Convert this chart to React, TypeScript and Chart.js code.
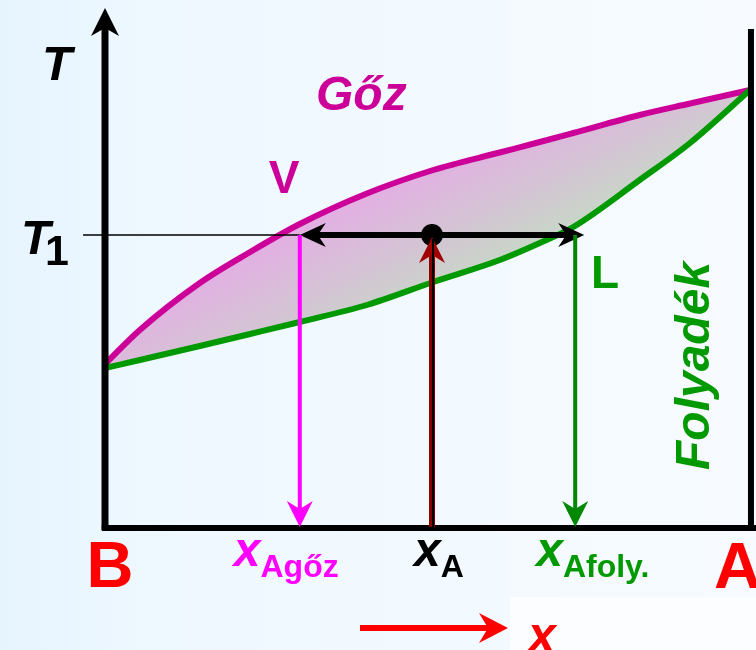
import React, { useEffect, useRef } from "react";
import { Chart, registerables } from "chart.js";

Chart.register(...registerables);

// composition of A (mole fraction) along the x axis, B = 0, A = 1
const compositions = [0, 0.054, 0.147, 0.225, 0.302, 0.406, 0.509, 0.612, 0.674, 0.726, 0.829, 0.907, 1];
// dew (vapour) curve temperatures
const vaporT = [32.6, 39.4, 48.8, 55, 60.6, 66.7, 71.4, 74.9, 77, 78.8, 82.4, 84.7, 87.4];
// boiling (liquid) curve temperatures
const liquidT = [31.8, 33.4, 36.2, 38.6, 41, 44.4, 49, 53.4, 56.8, 60, 69.4, 76.8, 87.4];

const T1 = 58.4;
const xVapor = 0.302;
const xMix = 0.507;
const xLiquid = 0.729;
const tieRight = 0.743;

const X_MIN = -105 / 645;
const X_MAX = 651 / 645;
const Y_MIN = -24.6;
const Y_MAX = 105.4;
const Y_AXIS_TIP = 103.8;
const RIGHT_AXIS_TOP = 99.6;

const FONT = '"Liberation Sans", Arial, sans-serif';

function arrow(
  ctx: CanvasRenderingContext2D,
  tx: number,
  ty: number,
  dx: number,
  dy: number,
  len: number,
  half: number,
  notch: number,
  color: string
) {
  const bx = tx - dx * len;
  const by = ty - dy * len;
  const pxv = -dy;
  const pyv = dx;
  ctx.save();
  ctx.fillStyle = color;
  ctx.beginPath();
  ctx.moveTo(tx, ty);
  ctx.lineTo(bx + pxv * half, by + pyv * half);
  ctx.lineTo(tx - dx * (len - notch), ty - dy * (len - notch));
  ctx.lineTo(bx - pxv * half, by - pyv * half);
  ctx.closePath();
  ctx.fill();
  ctx.restore();
}

function line(ctx: CanvasRenderingContext2D, x1: number, y1: number, x2: number, y2: number, w: number, color: string) {
  ctx.save();
  ctx.strokeStyle = color;
  ctx.lineWidth = w;
  ctx.lineCap = "butt";
  ctx.beginPath();
  ctx.moveTo(x1, y1);
  ctx.lineTo(x2, y2);
  ctx.stroke();
  ctx.restore();
}

function text(ctx: CanvasRenderingContext2D, s: string, x: number, y: number, font: string, color: string, align: CanvasTextAlign = "left") {
  ctx.save();
  ctx.font = font;
  ctx.fillStyle = color;
  ctx.textAlign = align;
  ctx.textBaseline = "alphabetic";
  ctx.fillText(s, x, y);
  ctx.restore();
}

const decorPlugin = {
  id: "decor",
  beforeDraw(chart: any) {
    const { ctx, width, height } = chart;
    ctx.save();
    const g = ctx.createLinearGradient(0, 0, width, 0);
    g.addColorStop(0, "#E6F4FE");
    g.addColorStop(0.2, "#EEF8FF");
    g.addColorStop(1, "#F7FBFF");
    ctx.fillStyle = g;
    ctx.fillRect(0, 0, width, height);
    ctx.fillStyle = "#FBFDFF";
    ctx.fillRect(510, 597, width - 510, height - 597);
    ctx.restore();
  },
  afterDatasetsDraw(chart: any) {
    const ctx: CanvasRenderingContext2D = chart.ctx;
    const xs = chart.scales.x;
    const ys = chart.scales.y;
    const px = (v: number) => xs.getPixelForValue(v);
    const py = (v: number) => ys.getPixelForValue(v);
    const yT1 = py(T1);
    const y0 = py(0);

    // y axis arrowhead
    arrow(ctx, px(0), py(Y_AXIS_TIP), 0, -1, 28, 14, 8, "#000");

    // tie line with arrows
    line(ctx, px(xVapor) + 14, yT1, px(tieRight) - 14, yT1, 6, "#000");
    arrow(ctx, px(xVapor), yT1, -1, 0, 26, 12, 8, "#000");
    arrow(ctx, px(tieRight), yT1, 1, 0, 26, 12, 8, "#000");

    // vapour composition drop line
    line(ctx, px(xVapor), yT1, px(xVapor), y0 - 14, 4, "#FF00FF");
    arrow(ctx, px(xVapor), y0, 0, 1, 26, 13, 8, "#FF00FF");

    // liquid composition drop line
    line(ctx, px(xLiquid), yT1, px(xLiquid), y0 - 14, 4, "#008800");
    arrow(ctx, px(xLiquid), y0, 0, 1, 26, 13, 8, "#008800");

    // overall composition line
    line(ctx, px(xMix), y0, px(xMix), yT1 + 10, 6, "#8B0000");
    line(ctx, px(xMix) + 1, y0, px(xMix) + 1, yT1 + 10, 2, "#000");
    ctx.save();
    ctx.fillStyle = "#000";
    ctx.beginPath();
    ctx.arc(px(xMix), yT1, 11, 0, Math.PI * 2);
    ctx.fill();
    ctx.restore();
    arrow(ctx, px(xMix), yT1 + 2, 0, -1, 26, 13, 8, "#A00000");
    line(ctx, px(xMix) + 1, y0, px(xMix) + 1, yT1 + 4, 2, "#000");

    // labels
    const bi = (s: number) => `italic bold ${s}px ${FONT}`;
    const b = (s: number) => `bold ${s}px ${FONT}`;
    text(ctx, "T", 42, 80, bi(49), "#000");
    text(ctx, "T", 21, 254, bi(48), "#000");
    text(ctx, "1", 57, 265, b(43), "#000", "center");
    text(ctx, "Gőz", 316, 110, bi(48), "#CC0099");
    text(ctx, "V", 284, 193, b(46), "#CC0099", "center");
    text(ctx, "L", 591, 288, b(46), "#009900");
    ctx.save();
    ctx.translate(709, 470);
    ctx.rotate(-Math.PI / 2);
    text(ctx, "Folyadék", 0, 0, bi(48), "#009900");
    ctx.restore();

    text(ctx, "B", px(0) + 5, 587, b(65), "#FF0000", "center");
    text(ctx, "A", px(1) - 36, 588, b(65), "#FF0000");

    const sub = (main: string, subs: string, left: number, color: string) => {
      text(ctx, main, left, 566, bi(48), color);
      ctx.save();
      ctx.font = bi(48);
      const w = ctx.measureText(main).width;
      ctx.restore();
      text(ctx, subs, left + w, 577, b(32), color);
    };
    sub("x", "Agőz", px(xVapor) - 66, "#FF00FF");
    sub("x", "A", px(xMix) - 18, "#000");
    sub("x", "Afoly.", px(xLiquid) - 39, "#009900");

    // x direction arrow
    line(ctx, 360, 628, 494, 628, 6, "#FF0000");
    arrow(ctx, 508, 628, 1, 0, 29, 15, 9, "#FF0000");
    text(ctx, "x", 528, 652, bi(50), "#FF0000");
  },
};

export default function App() {
  const ref = useRef<HTMLCanvasElement | null>(null);

  useEffect(() => {
    document.body.style.margin = "0";
    if (!ref.current) return;
    const pts = (ys: number[]) => compositions.map((x, i) => ({ x, y: ys[i] }));
    const chart = new Chart(ref.current, {
      type: "scatter",
      data: {
        datasets: [
          {
            label: "Gőz",
            data: pts(vaporT),
            showLine: true,
            borderColor: "#CC0099",
            borderWidth: 6,
            pointRadius: 0,
            cubicInterpolationMode: "monotone",
            fill: "+1",
            order: 2,
            backgroundColor: (c: any) => {
              const cx = c.chart.ctx as CanvasRenderingContext2D;
              const g = cx.createLinearGradient(400, 180, 460, 300);
              g.addColorStop(0, "#E2B0E2");
              g.addColorStop(0.5, "#D4C4D4");
              g.addColorStop(1, "#C4DCC4");
              return g;
            },
          } as any,
          {
            label: "Folyadék",
            data: pts(liquidT),
            showLine: true,
            borderColor: "#009900",
            borderWidth: 6,
            pointRadius: 0,
            cubicInterpolationMode: "monotone",
            fill: false,
            order: 1,
          } as any,
          {
            label: "T1",
            data: [
              { x: -0.034, y: T1 },
              { x: xVapor, y: T1 },
            ],
            showLine: true,
            borderColor: "#000",
            borderWidth: 1.5,
            pointRadius: 0,
          },
          {
            label: "y axis",
            data: [
              { x: 0, y: -0.6 },
              { x: 0, y: Y_AXIS_TIP - 4 },
            ],
            showLine: true,
            borderColor: "#000",
            borderWidth: 7,
            pointRadius: 0,
          },
          {
            label: "x axis",
            data: [
              { x: -0.005, y: -0.2 },
              { x: X_MAX, y: -0.2 },
            ],
            showLine: true,
            borderColor: "#000",
            borderWidth: 6,
            pointRadius: 0,
          },
          {
            label: "right axis",
            data: [
              { x: 1.0015, y: -0.2 },
              { x: 1.0015, y: RIGHT_AXIS_TOP },
            ],
            showLine: true,
            borderColor: "#000",
            borderWidth: 6,
            pointRadius: 0,
          },
        ],
      },
      options: {
        responsive: true,
        maintainAspectRatio: false,
        animation: false,
        events: [],
        layout: { padding: 0 },
        plugins: { legend: { display: false }, tooltip: { enabled: false } },
        scales: {
          x: { type: "linear", min: X_MIN, max: X_MAX, display: false },
          y: { type: "linear", min: Y_MIN, max: Y_MAX, display: false },
        },
      },
      plugins: [decorPlugin],
    });
    return () => chart.destroy();
  }, []);

  return (
    <div style={{ width: 756, height: 650, position: "relative" }}>
      <canvas ref={ref} />
    </div>
  );
}
